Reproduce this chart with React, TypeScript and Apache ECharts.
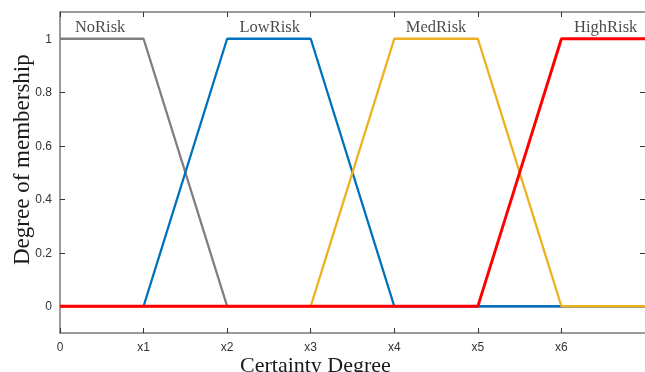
import React, { useEffect, useRef } from "react";
import * as echarts from "echarts";

const xTickLabels = ["0", "x1", "x2", "x3", "x4", "x5", "x6", ""];
const yTickValues = [0, 0.2, 0.4, 0.6, 0.8, 1];

const noRisk: [number, number][] = [[0, 1], [1, 1], [2, 0], [7, 0]];
const lowRisk: [number, number][] = [[0, 0], [1, 0], [2, 1], [3, 1], [4, 0], [7, 0]];
const medRisk: [number, number][] = [[0, 0], [3, 0], [4, 1], [5, 1], [6, 0], [7, 0]];
const highRisk: [number, number][] = [[0, 0], [5, 0], [6, 1], [7, 1]];

const setNames = ["NoRisk", "LowRisk", "MedRisk", "HighRisk"];
const setLabelPos: [number, number][] = [[0.48, 1.045], [2.51, 1.045], [4.5, 1.045], [6.53, 1.045]];

const colors = ["#7f7f7f", "#0072BD", "#EDB120", "#FF0000"];

export default function App() {
  const ref = useRef<HTMLDivElement>(null);
  useEffect(() => {
    const chart = echarts.init(ref.current!, null, { renderer: "svg" });
    const axisColor = "#7a7a7a";
    const tickStyle = { color: "#333", width: 1 };
    const line = (name: string, data: [number, number][], color: string, width: number) => ({
      type: "line",
      name,
      data,
      showSymbol: false,
      symbol: "none",
      lineStyle: { color, width },
      z: 2,
    });
    chart.setOption({
      animation: false,
      grid: { left: 60, top: 12, width: 585, height: 321, containLabel: false, outerBoundsMode: "none" },
      xAxis: [
        {
          type: "value",
          min: 0,
          max: 7,
          interval: 1,
          axisLine: { show: true, onZero: false, lineStyle: { color: axisColor, width: 1.5 } },
          axisTick: { show: true, inside: true, length: 5, lineStyle: tickStyle },
          axisLabel: {
            color: "#333",
            fontFamily: "Liberation Sans",
            fontSize: 12,
            margin: 8,
            formatter: (v: number) => xTickLabels[Math.round(v)] ?? "",
          },
          splitLine: { show: false },
        },
        {
          type: "value",
          position: "top",
          min: 0,
          max: 7,
          interval: 1,
          axisLine: { show: true, onZero: false, lineStyle: { color: axisColor, width: 1.5 } },
          axisTick: { show: true, inside: true, length: 5, lineStyle: tickStyle },
          axisLabel: { show: false },
          splitLine: { show: false },
        },
      ],
      yAxis: [
        {
          type: "value",
          min: -0.1,
          max: 1.1,
          axisLine: { show: true, onZero: false, lineStyle: { color: axisColor, width: 1.5 } },
          axisTick: { show: true, inside: true, length: 5, customValues: yTickValues, lineStyle: tickStyle },
          axisLabel: {
            color: "#333",
            fontFamily: "Liberation Sans",
            fontSize: 12,
            margin: 8,
            customValues: yTickValues,
            formatter: (v: number) => String(Math.round(v * 10) / 10),
          },
          splitLine: { show: false },
        },
        {
          type: "value",
          position: "right",
          min: -0.1,
          max: 1.1,
          axisLine: { show: false, onZero: false },
          axisTick: { show: true, inside: true, length: 5, customValues: yTickValues, lineStyle: tickStyle },
          axisLabel: { show: false },
          splitLine: { show: false },
        },
      ],
      series: [
        line("NoRisk", noRisk, colors[0], 2.3),
        line("LowRisk", lowRisk, colors[1], 2.3),
        line("MedRisk", medRisk, colors[2], 2.3),
        line("HighRisk", highRisk, colors[3], 2.9),
        {
          type: "scatter",
          symbolSize: 0,
          silent: true,
          data: setLabelPos.map((p, i) => ({ value: p, name: setNames[i] })),
          label: {
            show: true,
            position: "inside",
            formatter: (p: any) => p.name,
            color: "#1a1a1a",
            fontFamily: "Liberation Serif",
            fontSize: 16.5,
          },
          z: 5,
        },
      ],
      graphic: [
        {
          type: "text",
          x: 240,
          y: 375,
          style: {
            text: "Certainty Degree",
            font: '22px "Liberation Serif"',
            fill: "#1a1a1a",
            verticalAlign: "bottom",
          },
        },
        {
          type: "text",
          x: 10,
          y: 265,
          rotation: Math.PI / 2,
          style: { text: "Degree of membership", font: '23px "Liberation Serif"', fill: "#1a1a1a" },
        },
      ],
    });
    return () => chart.dispose();
  }, []);
  return <div ref={ref} style={{ position: "fixed", left: 0, top: 0, width: 645, height: 372 }} />;
}
